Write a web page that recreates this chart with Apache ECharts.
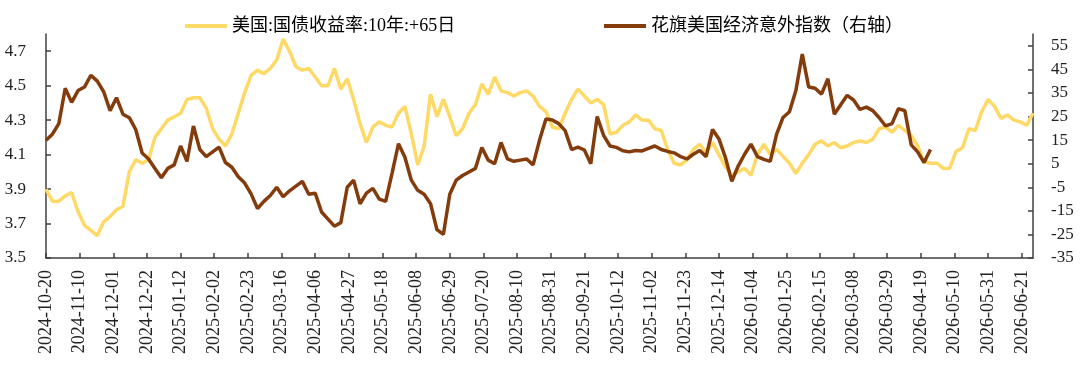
<!DOCTYPE html>
<html>
<head>
<meta charset="utf-8">
<script src="https://cdn.jsdelivr.net/npm/echarts@6/dist/echarts.min.js"></script>
<style>
  html, body { margin: 0; padding: 0; background: #fff; }
  #main { width: 1080px; height: 375px; }
</style>
</head>
<body>
<div id="main"></div>
<script>
// 横轴：每日一个类目，从 2024-10-20 到 2026-06-28
const startDate = '2024-10-20'
const dayCount = 617
const labelStep = 21 // 每 21 天一个刻度标签

// 两条线都是每 4 天读一个点
const sampleStep = 4

const usName = '美国:国债收益率:10年:+65日'
const citiName = '花旗美国经济意外指数（右轴）'

// 美国10年国债收益率（领先65日），左轴
const usYield = [
  3.90, 3.83, 3.83, 3.86, 3.88, 3.77, 3.69, 3.66, 3.63, 3.71,
  3.74, 3.78, 3.80, 4.00, 4.07, 4.05, 4.07, 4.20, 4.25, 4.30,
  4.32, 4.34, 4.42, 4.43, 4.43, 4.37, 4.25, 4.19, 4.15, 4.22,
  4.34, 4.46, 4.56, 4.59, 4.57, 4.60, 4.65, 4.77, 4.70, 4.61,
  4.59, 4.60, 4.55, 4.50, 4.50, 4.60, 4.48, 4.54, 4.42, 4.28,
  4.17, 4.26, 4.29, 4.27, 4.26, 4.34, 4.38, 4.22, 4.04, 4.15,
  4.45, 4.32, 4.42, 4.32, 4.21, 4.25, 4.34, 4.39, 4.51, 4.45,
  4.55, 4.47, 4.46, 4.44, 4.46, 4.47, 4.44, 4.38, 4.35, 4.26,
  4.25, 4.34, 4.42, 4.48, 4.44, 4.40, 4.42, 4.39, 4.22, 4.23,
  4.27, 4.29, 4.33, 4.30, 4.30, 4.25, 4.24, 4.13, 4.05, 4.04,
  4.07, 4.13, 4.16, 4.11, 4.17, 4.10, 4.03, 3.98, 4.00, 4.02,
  3.98, 4.10, 4.16, 4.10, 4.13, 4.09, 4.05, 3.99, 4.05, 4.10,
  4.16, 4.18, 4.15, 4.17, 4.14, 4.15, 4.17, 4.18, 4.17, 4.19,
  4.25, 4.26, 4.23, 4.27, 4.24, 4.21, 4.15, 4.06, 4.05, 4.05,
  4.02, 4.02, 4.12, 4.14, 4.25, 4.24, 4.35, 4.42, 4.38, 4.31,
  4.33, 4.30, 4.29, 4.27, 4.34
]

// 花旗美国经济意外指数，右轴
const citiSurprise = [
  14.9, 17.5, 22, 37, 31, 36, 37.5, 42.5, 40, 35.5,
  27.5, 33, 26, 24.5, 19.5, 9.5, 7, 3, -1, 3,
  4.5, 12.5, 6, 21, 11, 8, 10, 12, 5.5, 3.5,
  -0.5, -3.2, -7.8, -14, -11, -8.5, -5, -9, -6.5, -4.5,
  -2.5, -8, -7.5, -15.5, -18.5, -21.5, -20, -5, -2, -12,
  -7.5, -5.5, -10, -11, 1, 13.5, 7.7, -2, -6.3, -8,
  -12, -23, -25, -8, -2, 0, 1.5, 3, 11.9, 6.5,
  5, 14, 7, 6, 6.5, 7, 4.5, 14.9, 24, 23.5,
  22, 19, 11, 12, 10.8, 5, 25, 17, 12.5, 11.9,
  10.5, 10, 10.6, 10.4, 11.5, 12.5, 11, 10.2, 9.6, 8,
  7, 9, 10.6, 8, 19.5, 15.5, 7.7, -2.5, 4, 9,
  13.3, 8, 6.8, 6, 17.5, 24.6, 27, 36, 51.5, 37.5,
  37, 34.5, 41, 26, 30, 34, 32, 28, 29, 27.5,
  24.5, 21, 22, 28.3, 27.5, 13, 10, 5.5, 11
]

// 坐标轴刻度
const leftTicks = [3.5, 3.7, 3.9, 4.1, 4.3, 4.5, 4.7]
const rightTicks = [-35, -25, -15, -5, 5, 15, 25, 35, 45, 55]

function fmtDate(d) {
  const m = String(d.getUTCMonth() + 1).padStart(2, '0')
  const day = String(d.getUTCDate()).padStart(2, '0')
  return d.getUTCFullYear() + '-' + m + '-' + day
}

const dates = []
const t0 = new Date(startDate + 'T00:00:00Z')
for (let i = 0; i < dayCount; i++) {
  dates.push(fmtDate(new Date(t0.getTime() + i * 86400000)))
}

const toPairs = (vals) => vals.map((v, i) => [dates[i * sampleStep], v])

const numFont = 'Liberation Serif, Times New Roman, serif'
const cnFont = 'Liberation Serif, Noto Sans CJK SC, serif'
const axisColor = '#404040'

var myChart = echarts.init(document.getElementById('main'))
var option = {
  backgroundColor: '#ffffff',
  animation: false,
  grid: {
    left: 46,
    right: 47,
    top: 34,
    bottom: 117,
  },
  legend: [
    {
      left: 180,
      top: 12,
      data: [usName],
      icon: 'rect',
      itemWidth: 42,
      itemHeight: 4,
      textStyle: { fontSize: 18, color: '#000', fontFamily: cnFont },
    },
    {
      left: 599,
      top: 12,
      data: [citiName],
      icon: 'rect',
      itemWidth: 42,
      itemHeight: 4,
      textStyle: { fontSize: 18, color: '#000', fontFamily: cnFont },
    },
  ],
  xAxis: {
    type: 'category',
    boundaryGap: false,
    data: dates,
    axisLine: { onZero: false, lineStyle: { color: axisColor, width: 1.5 } },
    axisTick: {
      inside: true,
      length: 5,
      interval: labelStep - 1,
      lineStyle: { color: axisColor, width: 1.5 },
    },
    axisLabel: {
      interval: labelStep - 1,
      rotate: 90,
      margin: 12,
      fontSize: 18,
      fontFamily: numFont,
      color: '#222',
    },
    splitLine: { show: false },
  },
  yAxis: [
    {
      type: 'value',
      min: 3.5,
      max: 4.8,
      position: 'left',
      axisLine: { show: true, lineStyle: { color: axisColor, width: 1.5 } },
      axisTick: {
        show: true,
        inside: true,
        length: 5,
        customValues: leftTicks,
        lineStyle: { color: axisColor, width: 1.5 },
      },
      axisLabel: {
        customValues: leftTicks,
        formatter: (v) => v.toFixed(1),
        margin: 20,
        fontSize: 17,
        fontFamily: numFont,
        color: '#222',
      },
      splitLine: { show: false },
    },
    {
      type: 'value',
      min: -35,
      max: 60,
      position: 'right',
      axisLine: { show: true, lineStyle: { color: axisColor, width: 1.5 } },
      axisTick: {
        show: true,
        inside: true,
        length: 5,
        customValues: rightTicks,
        lineStyle: { color: axisColor, width: 1.5 },
      },
      axisLabel: {
        customValues: rightTicks,
        margin: 18,
        fontSize: 17,
        fontFamily: numFont,
        color: '#222',
      },
      splitLine: { show: false },
    },
  ],
  series: [
    {
      name: usName,
      type: 'line',
      yAxisIndex: 0,
      showSymbol: false,
      symbol: 'none',
      lineStyle: { color: '#FFD966', width: 3.5 },
      itemStyle: { color: '#FFD966' },
      data: toPairs(usYield),
    },
    {
      name: citiName,
      type: 'line',
      yAxisIndex: 1,
      showSymbol: false,
      symbol: 'none',
      lineStyle: { color: '#843C0C', width: 3.5 },
      itemStyle: { color: '#843C0C' },
      data: toPairs(citiSurprise),
    },
  ],
}

option && myChart.setOption(option)
</script>
</body>
</html>
